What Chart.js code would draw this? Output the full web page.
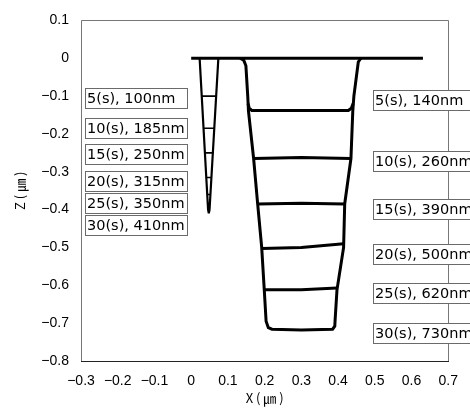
<!DOCTYPE html>
<html>
<head>
<meta charset="utf-8">
<script src="https://cdn.jsdelivr.net/npm/chart.js@4.4.1/dist/chart.umd.min.js"></script>
<style>
  body { margin: 0; background: #fff; }
  canvas { display: block; }
</style>
</head>
<body>
<canvas id="profileChart" width="470" height="414"></canvas>
<script>
// axis ticks
const xTicks = [-0.3, -0.2, -0.1, 0, 0.1, 0.2, 0.3, 0.4, 0.5, 0.6, 0.7];
const yTicks = [0.1, 0, -0.1, -0.2, -0.3, -0.4, -0.5, -0.6, -0.7, -0.8];

// flat surface
const surfaceX = [0, 0.631];
const surfaceZ = [0, 0];

// narrow groove (V shape) and its etch fronts
const narrowWallX = [0.023, 0.046, 0.048, 0.050, 0.074];
const narrowWallZ = [0, -0.40, -0.41, -0.40, 0];
const narrowDepth = [-0.10, -0.185, -0.25, -0.315, -0.36];
const narrowLeft = [0.029, 0.033, 0.036, 0.040, 0.044];
const narrowRight = [0.067, 0.064, 0.061, 0.056, 0.053];
const narrowLabels = ["5(s), 100nm", "10(s), 185nm", "15(s), 250nm", "20(s), 315nm", "25(s), 350nm", "30(s), 410nm"];

// wide groove outline (30 s) and earlier etch fronts
const wideWallX = [0.133, 0.143, 0.149, 0.154, 0.156, 0.170, 0.181, 0.192, 0.199, 0.204, 0.210, 0.220, 0.300, 0.385, 0.391, 0.392, 0.397, 0.415, 0.418, 0.435, 0.440, 0.443, 0.455, 0.462];
const wideWallZ = [0, -0.005, -0.02, -0.10, -0.14, -0.265, -0.385, -0.50, -0.612, -0.695, -0.712, -0.716, -0.718, -0.716, -0.708, -0.69, -0.612, -0.50, -0.385, -0.265, -0.14, -0.10, -0.01, 0];
const wideFrontX = [
  [0.155, 0.158, 0.165, 0.428, 0.436, 0.441],
  [0.170, 0.300, 0.435],
  [0.181, 0.300, 0.418],
  [0.192, 0.300, 0.415],
  [0.199, 0.300, 0.397]
];
const wideFrontZ = [
  [-0.12, -0.132, -0.138, -0.138, -0.132, -0.12],
  [-0.265, -0.262, -0.265],
  [-0.385, -0.383, -0.385],
  [-0.503, -0.50, -0.49],
  [-0.612, -0.612, -0.607]
];
const wideLabels = ["5(s), 140nm", "10(s), 260nm", "15(s), 390nm", "20(s), 500nm", "25(s), 620nm", "30(s), 730nm"];

// label box anchors (data coords of box left edge / vertical centre)
const leftBoxX = -0.289;
const leftBoxZ = [-0.106, -0.184, -0.252, -0.324, -0.383, -0.441];
const rightBoxX = 0.495;
const rightBoxZ = [-0.111, -0.271, -0.398, -0.517, -0.621, -0.725];

function pts(xs, zs) {
  return xs.map((x, i) => ({ x: x, y: zs[i] }));
}

function lineSet(data, width) {
  return {
    data: data,
    showLine: true,
    borderColor: "#000",
    borderWidth: width,
    pointRadius: 0,
    fill: false,
    tension: 0
  };
}

const datasets = [];
datasets.push(lineSet(pts(surfaceX, surfaceZ), 3));
datasets.push(lineSet(pts(narrowWallX, narrowWallZ), 2.2));
narrowDepth.forEach((z, i) => {
  datasets.push(lineSet(pts([narrowLeft[i], narrowRight[i]], [z, z]), 1.6));
});
datasets.push(lineSet(pts(wideWallX, wideWallZ), 3));
wideFrontX.forEach((xs, i) => {
  datasets.push(lineSet(pts(xs, wideFrontZ[i]), 3));
});

function fmtTick(v) {
  if (Math.abs(v) < 1e-9) return "0";
  return v.toFixed(1).replace("-", "\u2212");
}

// plot frame plus text boxes with etch time and depth
const boxPlugin = {
  id: "boxes",
  afterDraw(chart) {
    const { ctx } = chart;
    const xs = chart.scales.x, ys = chart.scales.y;
    const l = Math.round(xs.getPixelForValue(xs.min)) + 0.5;
    const r = Math.round(xs.getPixelForValue(xs.max)) + 0.5;
    const t = Math.round(ys.getPixelForValue(ys.max)) + 0.5;
    const b = Math.round(ys.getPixelForValue(ys.min)) + 0.5;
    ctx.save();
    ctx.lineWidth = 1;
    ctx.strokeStyle = "#777";
    ctx.beginPath();
    ctx.moveTo(l, b);
    ctx.lineTo(l, t);
    ctx.lineTo(r, t);
    ctx.lineTo(r, b);
    ctx.stroke();
    ctx.strokeStyle = "#222";
    ctx.beginPath();
    ctx.moveTo(l - 0.5, b);
    ctx.lineTo(r + 0.5, b);
    ctx.stroke();
    ctx.font = "14.5px 'DejaVu Sans'";
    ctx.textBaseline = "middle";
    function drawBox(label, xv, zv) {
      const bx = Math.round(xs.getPixelForValue(xv)) + 0.5;
      const cy = Math.round(ys.getPixelForValue(zv));
      const by = cy - 10 + 0.5;
      ctx.fillStyle = "#fff";
      ctx.fillRect(bx, by, 102, 20);
      ctx.strokeStyle = "#6a6a6a";
      ctx.strokeRect(bx, by, 102, 20);
      ctx.fillStyle = "#000";
      ctx.fillText(label, bx + 1.5, cy + 1);
    }
    narrowLabels.forEach((t, i) => drawBox(t, leftBoxX, leftBoxZ[i]));
    wideLabels.forEach((t, i) => drawBox(t, rightBoxX, rightBoxZ[i]));
    ctx.restore();
  }
};

const tickFont = { family: "'Liberation Sans', Arial", size: 14 };
const titleFont = { family: "'Noto Sans CJK KR', 'DejaVu Sans'", size: 13 };

new Chart(document.getElementById("profileChart"), {
  type: "scatter",
  data: { datasets: datasets },
  options: {
    responsive: false,
    animation: false,
    devicePixelRatio: 1,
    layout: { padding: { top: 16, right: 15, left: 0, bottom: 0 } },
    plugins: {
      legend: { display: false },
      tooltip: { enabled: false }
    },
    scales: {
      x: {
        type: "linear",
        min: -0.3,
        max: 0.7,
        grid: { display: false, drawTicks: false },
        border: { display: false },
        afterBuildTicks: s => { s.ticks = xTicks.map(v => ({ value: v })); },
        afterFit: s => { s.height = 53; },
        ticks: { color: "#000", font: tickFont, padding: 12, maxRotation: 0, callback: fmtTick },
        title: { display: true, text: "X ( \u339B )", color: "#000", font: titleFont, padding: { top: 0, bottom: 8 } }
      },
      y: {
        type: "linear",
        min: -0.8,
        max: 0.1,
        grid: { display: false, drawTicks: false },
        border: { display: false },
        afterBuildTicks: s => { s.ticks = yTicks.map(v => ({ value: v })); },
        afterFit: s => { s.width = 81; },
        ticks: { color: "#000", font: tickFont, padding: 12, callback: fmtTick },
        title: { display: true, text: "Z ( \u339B )", color: "#000", font: titleFont, padding: { top: 12, bottom: 0 } }
      }
    }
  },
  plugins: [boxPlugin]
});
</script>
</body>
</html>
